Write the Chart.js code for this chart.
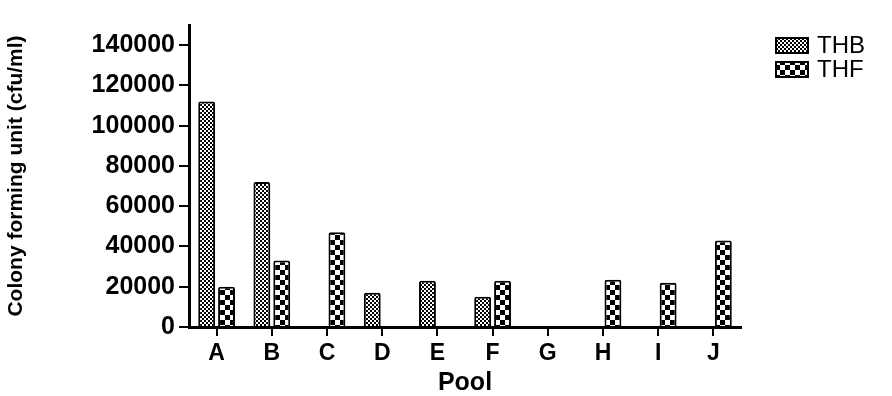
<!DOCTYPE html>
<html>
<head>
<meta charset="utf-8">
<script src="https://cdn.jsdelivr.net/npm/chart.js@4/dist/chart.umd.min.js"></script>
<style>
  body { margin: 0; background: #fff; }
  canvas { display: block; }
</style>
</head>
<body>
<canvas id="cfu-chart" width="892" height="396"></canvas>
<script>
// data
const pools = ["A", "B", "C", "D", "E", "F", "G", "H", "I", "J"];
const thbValues = [112000, 72000, 0, 17000, 23000, 15000, 0, 0, 0, 0];
const thfValues = [20000, 33000, 47000, 0, 0, 23000, 0, 23500, 22000, 43000];
const yTicks = [0, 20000, 40000, 60000, 80000, 100000, 120000, 140000];

const FONT = "'Liberation Sans', Arial, sans-serif";

// checkerboard fill patterns (fine for THB, coarse for THF)
function checker(size) {
  const c = document.createElement("canvas");
  c.width = size * 2;
  c.height = size * 2;
  const g = c.getContext("2d");
  g.fillStyle = "#fff";
  g.fillRect(0, 0, c.width, c.height);
  g.fillStyle = "#000";
  g.fillRect(0, 0, size, size);
  g.fillRect(size, size, size, size);
  return g.createPattern(c, "repeat");
}

// legend on the right, boxes like the bars
const sideLegend = {
  id: "sideLegend",
  afterDraw(chart) {
    const c = chart.ctx;
    const left = chart.chartArea.right + 35;
    c.save();
    c.font = "24px " + FONT;
    c.textBaseline = "middle";
    chart.data.datasets.forEach((ds, i) => {
      const y = 38 + i * 24;
      c.fillStyle = ds.backgroundColor;
      c.fillRect(left, y, 32, 15);
      c.lineWidth = 2;
      c.strokeStyle = "#000";
      c.strokeRect(left, y, 32, 15);
      c.fillStyle = "#000";
      c.fillText(ds.label, left + 41, y + 8);
    });
    c.restore();
  }
};

const ctx = document.getElementById("cfu-chart").getContext("2d");
const thbFill = checker(2);
const thfFill = checker(5);

new Chart(ctx, {
  type: "bar",
  data: {
    labels: pools,
    datasets: [
      {
        label: "THB",
        data: thbValues,
        backgroundColor: thbFill,
        borderColor: "#000",
        borderWidth: 2,
        borderRadius: 2,
        borderSkipped: "bottom",
        barPercentage: 0.85,
        categoryPercentage: 0.72
      },
      {
        label: "THF",
        data: thfValues,
        backgroundColor: thfFill,
        borderColor: "#000",
        borderWidth: 2,
        borderRadius: 2,
        borderSkipped: "bottom",
        barPercentage: 0.85,
        categoryPercentage: 0.72
      }
    ]
  },
  options: {
    responsive: false,
    animation: false,
    layout: { padding: { left: 0, right: 151, top: 25, bottom: 0 } },
    plugins: {
      tooltip: { enabled: false },
      legend: { display: false }
    },
    scales: {
      x: {
        offset: true,
        grid: {
          offset: false,
          drawOnChartArea: false,
          color: "#000",
          lineWidth: 2,
          tickLength: 9
        },
        border: { color: "#000", width: 3 },
        afterFit: (scale) => {
          scale.height = 69;
        },
        ticks: {
          color: "#000",
          padding: 4,
          maxRotation: 0,
          font: { family: FONT, size: 23, weight: "bold" }
        },
        title: {
          display: true,
          text: "Pool",
          color: "#000",
          padding: 0,
          font: { family: FONT, size: 25, weight: "bold", lineHeight: 1 }
        }
      },
      y: {
        min: 0,
        max: 150000,
        grid: {
          drawOnChartArea: false,
          color: "#000",
          lineWidth: 2,
          tickLength: 10
        },
        border: { color: "#000", width: 3 },
        afterBuildTicks: (scale) => {
          scale.ticks = yTicks.map((v) => ({ value: v }));
        },
        afterFit: (scale) => {
          scale.width = 189;
        },
        ticks: {
          color: "#000",
          padding: 4,
          callback: (v) => String(v),
          font: { family: FONT, size: 25, weight: "bold" }
        },
        title: {
          display: true,
          text: "Colony forming unit (cfu/ml)",
          color: "#000",
          padding: 4,
          font: { family: FONT, size: 21, weight: "bold" }
        }
      }
    }
  },
  plugins: [sideLegend]
});
</script>
</body>
</html>
